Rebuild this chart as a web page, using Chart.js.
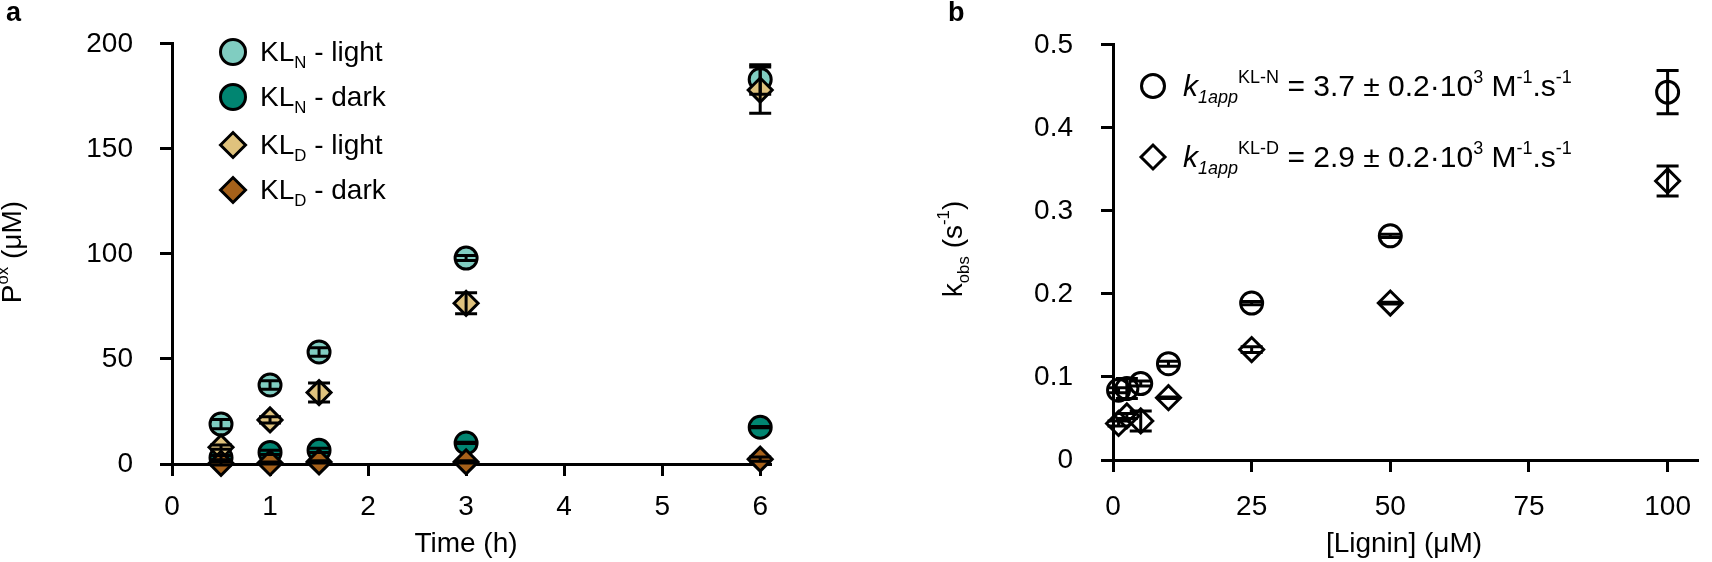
<!DOCTYPE html>
<html><head><meta charset="utf-8">
<script src="https://cdn.jsdelivr.net/npm/chart.js@4/dist/chart.umd.min.js"></script>
<style>
html,body{margin:0;padding:0;background:#fff;}
body{width:1712px;height:562px;position:relative;overflow:hidden;font-family:'Liberation Sans',Arial,sans-serif;color:#000;}
canvas{position:absolute;top:0;}
.t{position:absolute;white-space:nowrap;line-height:1;}
.sb{font-size:0.6em;vertical-align:-0.4em;line-height:0;}
.sp{font-size:0.6em;vertical-align:0.75em;line-height:0;}
.rot{transform:translate(-50%,-50%) rotate(-90deg);}
</style></head>
<body>
<canvas id="ca" width="856" height="562" style="left:0"></canvas>
<canvas id="cb" width="856" height="562" style="left:856px"></canvas>

<svg style="position:absolute;left:0;top:0" width="1712" height="562">
  <g stroke="#000" stroke-width="3">
    <circle cx="233" cy="52" r="12.5" fill="#80cdc1"/>
    <circle cx="233" cy="97" r="12.5" fill="#018571"/>
    <polygon points="220.5,145 233,132.5 245.5,145 233,157.5" fill="#dfc27d"/>
    <polygon points="220.5,190 233,177.5 245.5,190 233,202.5" fill="#a6611a"/>
    <circle cx="1153" cy="86" r="11.5" fill="none"/>
    <polygon points="1141,157 1153,145 1165,157 1153,169" fill="none"/>
  </g>
</svg>

<div class="t" style="left:6px;top:-1px;font-size:27px;font-weight:bold">a</div>
<div class="t" style="left:948px;top:-1px;font-size:27px;font-weight:bold">b</div>

<div class="t" style="left:260px;top:38px;font-size:28px">KL<span class="sb">N</span> - light</div>
<div class="t" style="left:260px;top:83px;font-size:28px">KL<span class="sb">N</span> - dark</div>
<div class="t" style="left:260px;top:131px;font-size:28px">KL<span class="sb">D</span> - light</div>
<div class="t" style="left:260px;top:176px;font-size:28px">KL<span class="sb">D</span> - dark</div>

<div class="t" style="left:1183px;top:71px;font-size:30px"><i>k</i><span class="sb"><i>1app</i></span><span class="sp">KL-N</span> = 3.7 ± 0.2·10<span class="sp">3</span> M<span class="sp">-1</span>.s<span class="sp">-1</span></div>
<div class="t" style="left:1183px;top:142px;font-size:30px"><i>k</i><span class="sb"><i>1app</i></span><span class="sp">KL-D</span> = 2.9 ± 0.2·10<span class="sp">3</span> M<span class="sp">-1</span>.s<span class="sp">-1</span></div>

<div class="t rot" style="left:12px;top:252px;font-size:28px">P<span class="sp">ox</span> (μM)</div>
<div class="t rot" style="left:953px;top:249px;font-size:28px">k<span class="sb">obs</span> (s<span class="sp">-1</span>)</div>
<div class="t" style="left:466px;top:529px;font-size:28px;transform:translateX(-50%)">Time (h)</div>
<div class="t" style="left:1404px;top:529px;font-size:28px;transform:translateX(-50%)">[Lignin] (μM)</div>

<script>
// ---- Panel a data ----
const timeH = [0.5, 1, 1.5, 3, 6];
const klnLight = [19, 37.6, 53.3, 98, 183];
const klnLightErr = [2.2, 2, 2, 1.2, 7];
const klnDark = [3, 5.5, 6.5, 10, 17.5];
const klnDarkErr = [1, 1, 1, 0.3, 0.3];
const kldLight = [8, 21, 34, 76.5, 178];
const kldLightErr = [1, 1.5, 4.5, 5, 11];
const kldDark = [0.3, 0.5, 1, 1, 2.3];
const kldDarkErr = [0.8, 0.5, 0.5, 0.5, 1];
const ticksA_y = [0, 50, 100, 150, 200];
const ticksA_x = [0, 1, 2, 3, 4, 5, 6];

// ---- Panel b data ----
const lignin = [1, 2.5, 5, 10, 25, 50, 100];
const kobsN = [0.084, 0.086, 0.092, 0.116, 0.189, 0.27, 0.443];
const kobsNErr = [0.003, 0.012, 0.003, 0.003, 0.002, 0.002, 0.026];
const kobsD = [0.044, 0.053, 0.047, 0.075, 0.133, 0.189, 0.336];
const kobsDErr = [0.003, 0.003, 0.012, 0.001, 0.0035, 0.001, 0.018];
const ticksB_y = [0, 0.1, 0.2, 0.3, 0.4, 0.5];
const ticksB_x = [0, 25, 50, 75, 100];

const pts = (xs, ys) => xs.map((x, i) => ({x: x, y: ys[i]}));

const errorBars = {
  id: 'errorBars',
  afterDatasetsDraw(chart) {
    const ctx = chart.ctx, xs = chart.scales.x, ys = chart.scales.y;
    ctx.save();
    ctx.strokeStyle = '#000'; ctx.lineWidth = 3; ctx.lineCap = 'butt';
    chart.data.datasets.forEach(ds => {
      if (!ds.errors) return;
      ds.data.forEach((p, i) => {
        const e = ds.errors[i];
        const x = xs.getPixelForValue(p.x);
        const y1 = ys.getPixelForValue(p.y + e), y2 = ys.getPixelForValue(p.y - e);
        ctx.beginPath();
        ctx.moveTo(x, y1); ctx.lineTo(x, y2);
        ctx.moveTo(x - 11, y1); ctx.lineTo(x + 11, y1);
        ctx.moveTo(x - 11, y2); ctx.lineTo(x + 11, y2);
        ctx.stroke();
      });
    });
    ctx.restore();
  }
};

const fontT = {family: 'Liberation Sans', size: 28};
function axis(min, max, tickVals, fitKey, fitVal, pad) {
  return {
    type: 'linear', min: min, max: max,
    afterFit(s) { s[fitKey] = fitVal; },
    afterBuildTicks(s) { s.ticks = tickVals.map(v => ({value: v})); },
    border: {display: true, color: '#000', width: 3},
    grid: {display: true, drawOnChartArea: false, drawTicks: true, tickLength: 12, tickWidth: 3, tickColor: '#000', color: '#000', lineWidth: 3},
    ticks: {padding: pad, color: '#000', font: fontT, maxRotation: 0, autoSkip: false}
  };
}
function ds(data, errs, style, r, fill, order) {
  return {data: data, errors: errs, pointStyle: style, pointRadius: r, pointHoverRadius: r,
    pointBorderWidth: 3, pointHoverBorderWidth: 3, pointBorderColor: '#000', pointBackgroundColor: fill,
    showLine: false, clip: false, order: order};
}
const common = {
  responsive: false, animation: false, events: [],
  plugins: {legend: {display: false}, tooltip: {enabled: false}}
};

new Chart(document.getElementById('ca'), {
  type: 'scatter',
  data: {datasets: [
    ds(pts(timeH, klnLight), klnLightErr, 'circle', 11, '#80cdc1', 3),
    ds(pts(timeH, klnDark), klnDarkErr, 'circle', 11, '#018571', 2),
    ds(pts(timeH, kldLight), kldLightErr, 'rectRot', 12, '#dfc27d', 1),
    ds(pts(timeH, kldDark), kldDarkErr, 'rectRot', 12, '#a6611a', 0)
  ]},
  options: Object.assign({}, common, {
    layout: {padding: {top: 39, right: 86, left: 0, bottom: 0}},
    scales: {
      x: axis(0, 6.1, ticksA_x, 'height', 98, 14),
      y: axis(0, 200, ticksA_y, 'width', 172, 27)
    }
  }),
  plugins: [errorBars]
});

new Chart(document.getElementById('cb'), {
  type: 'scatter',
  data: {datasets: [
    ds(pts(lignin, kobsN), kobsNErr, 'circle', 11, 'rgba(0,0,0,0)', 1),
    ds(pts(lignin, kobsD), kobsDErr, 'rectRot', 12, 'rgba(0,0,0,0)', 0)
  ]},
  options: Object.assign({}, common, {
    layout: {padding: {top: 39, right: 0, left: 0, bottom: 0}},
    scales: {
      x: axis(0, 105.3, ticksB_x, 'height', 102, 18),
      y: axis(0, 0.5, ticksB_y, 'width', 257, 28)
    }
  }),
  plugins: [errorBars]
});
</script>
</body></html>
